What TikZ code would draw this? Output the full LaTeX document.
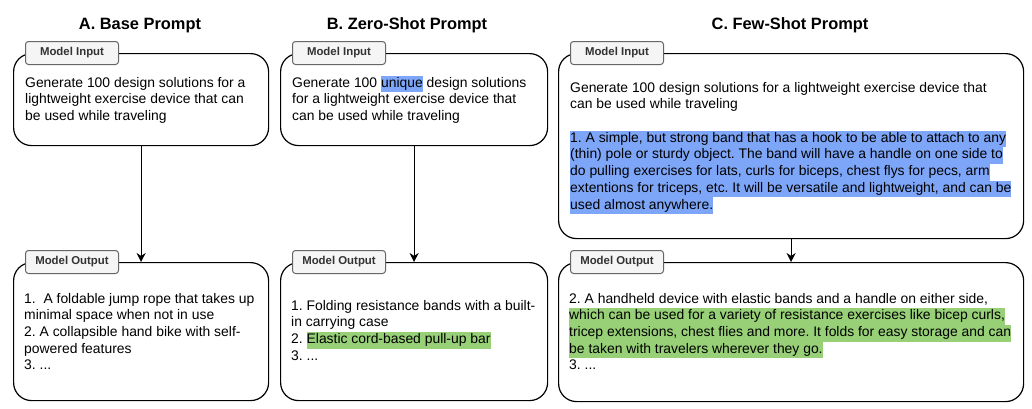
\documentclass[tikz,border=0pt]{standalone}
\usepackage{fontspec}
\setmainfont{Liberation Sans}
\usetikzlibrary{arrows.meta}
\definecolor{hlblue}{HTML}{7EA6F8}
\definecolor{hlgreen}{HTML}{97D077}
\definecolor{tabfill}{HTML}{F5F5F5}
\definecolor{tabdraw}{HTML}{666666}
\definecolor{tabtext}{HTML}{333333}
\newcommand{\hlb}[1]{{\setlength{\fboxsep}{0pt}\colorbox{hlblue}{\strut #1}}}
\newcommand{\hlg}[1]{{\setlength{\fboxsep}{0pt}\colorbox{hlgreen}{\strut #1}}}
\frenchspacing
\begin{document}
\begin{tikzpicture}[x=1pt,y=-1pt,
  panelbox/.style={draw=black, line width=1.2pt, rounded corners=18pt, rectangle, anchor=north west, inner sep=0pt},
  tabbox/.style={draw=tabdraw, fill=tabfill, line width=1pt, rounded corners=3pt, rectangle, anchor=west,
    minimum width=93pt, minimum height=23pt, inner sep=0pt, text=tabtext,
    font=\fontsize{11.4}{13}\selectfont\bfseries},
  bodytext/.style={anchor=north west, inner sep=0pt, align=left, font=\fontsize{13.9}{16.7}\selectfont\frenchspacing},
  titletext/.style={anchor=base, inner sep=0pt, font=\fontsize{16.4}{20}\selectfont\bfseries},
  flowarrow/.style={draw=black, line width=1.2pt, -{Stealth[length=9pt,width=9pt]}}
]
\useasboundingbox (0,0) rectangle (1032,408);
\fill[white] (0,0) rectangle (1032,408);

% Titles
\node[titletext] (titA) at (140,29) {A. Base Prompt};
\node[titletext] (titB) at (407,29) {B. Zero-Shot Prompt};
\node[titletext] (titC) at (790,29) {C. Few-Shot Prompt};

% Boxes
\node[panelbox, minimum width=255pt, minimum height=92pt] (inA) at (13,53) {};
\node[panelbox, minimum width=255pt, minimum height=138pt] (outA) at (13,262) {};
\node[panelbox, minimum width=267pt, minimum height=92pt] (inB) at (280,53) {};
\node[panelbox, minimum width=267pt, minimum height=138pt] (outB) at (280,262) {};
\node[panelbox, minimum width=465pt, minimum height=185pt] (inC) at (558,53) {};
\node[panelbox, minimum width=465pt, minimum height=139pt] (outC) at (558,262) {};

% Tabs
\node[tabbox] (tabInA) at ([xshift=12pt]inA.north west) {Model Input};
\node[tabbox] (tabOutA) at ([xshift=12pt]outA.north west) {Model Output};
\node[tabbox] (tabInB) at ([xshift=12pt]inB.north west) {Model Input};
\node[tabbox] (tabOutB) at ([xshift=12pt]outB.north west) {Model Output};
\node[tabbox] (tabInC) at ([xshift=12pt]inC.north west) {Model Input};
\node[tabbox] (tabOutC) at ([xshift=12pt]outC.north west) {Model Output};

% Arrows
\draw[flowarrow] (inA.south) -- (outA.north);
\draw[flowarrow] (inB.south) -- (outB.north);
\draw[flowarrow] (inC.south) -- (outC.north);

% Texts
\node[bodytext] (txtInA) at (25,75.3) {\strut Generate 100 design solutions for a\\
\strut lightweight exercise device that can\\
\strut be used while traveling};

\node[bodytext] (txtOutA) at (24,291.3) {\strut 1.\ \ A foldable jump rope that takes up\\
\strut minimal space when not in use\\
\strut 2. A collapsible hand bike with self-\\
\strut powered features\\
\strut 3. ...};

\node[bodytext] (txtInB) at (292,75.3) {\strut Generate 100 \hlb{unique} design solutions\\
\strut for a lightweight exercise device that\\
\strut can be used while traveling};

\node[bodytext] (txtOutB) at (291,298.3) {\strut 1. Folding resistance bands with a built-\\
\strut in carrying case\\
\strut 2. \hlg{Elastic cord-based pull-up bar}\\
\strut 3. ...};

\node[bodytext] (txtInC) at (570,80.3) {\strut Generate 100 design solutions for a lightweight exercise device that\\
\strut can be used while traveling\\
\strut\\
\hlb{1. A simple, but strong band that has a hook to be able to attach to any}\\
\hlb{(thin) pole or sturdy object. The band will have a handle on one side to}\\
\hlb{do pulling exercises for lats, curls for biceps, chest flys for pecs, arm}\\
\hlb{extentions for triceps, etc. It will be versatile and lightweight, and can be}\\
\hlb{used almost anywhere.}};

\node[bodytext] (txtOutC) at (569,291.3) {\strut 2. A handheld device with elastic bands and a handle on either side,\\
\hlg{which can be used for a variety of resistance exercises like bicep curls,}\\
\hlg{tricep extensions, chest flies and more. It folds for easy storage and can}\\
\hlg{be taken with travelers wherever they go.}\\
\strut 3. ...};
\end{tikzpicture}
\end{document}
